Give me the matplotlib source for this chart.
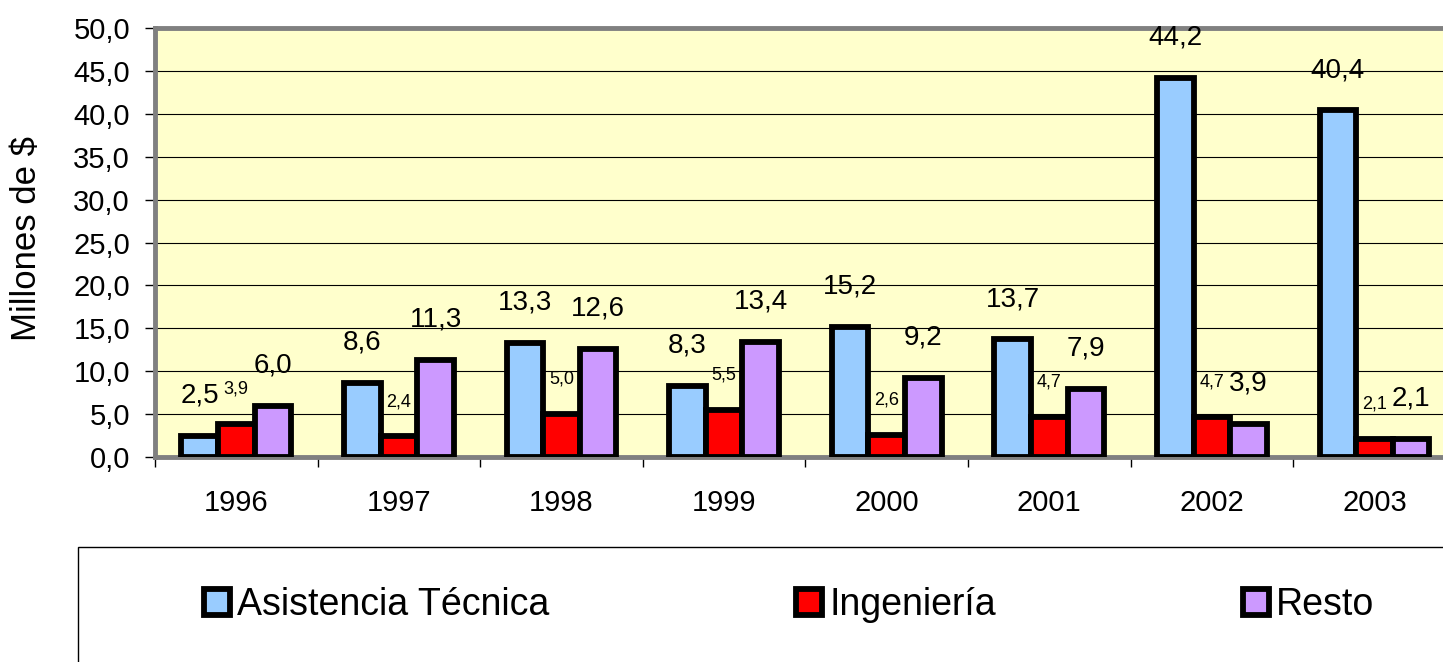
import matplotlib.pyplot as plt
import numpy as np
from matplotlib.patches import Rectangle

plt.rcParams['font.family'] = ['Liberation Sans', 'DejaVu Sans']

years = ['1996', '1997', '1998', '1999', '2000', '2001', '2002', '2003']
asistencia = [2.5, 8.6, 13.3, 8.3, 15.2, 13.7, 44.2, 40.4]
ingenieria = [3.9, 2.4, 5.0, 5.5, 2.6, 4.7, 4.7, 2.1]
resto = [6.0, 11.3, 12.6, 13.4, 9.2, 7.9, 3.9, 2.1]

series = [
    ('Asistencia Técnica', asistencia, '#99CCFF', 20, 29),
    ('Ingeniería', ingenieria, '#FF0000', 13, 25),
    ('Resto', resto, '#CC99FF', 20, 29),
]


def fmt(v):
    return f"{v:.1f}".replace('.', ',')


fig = plt.figure(figsize=(14.43, 6.62), dpi=100)
ax = fig.add_axes([155 / 1443, 1 - 457 / 662, 1300.8 / 1443, 429 / 662])
ax.set_facecolor('#FFFFCC')

x = np.arange(len(years))
w = 0.2255
for i, (name, vals, col, fs, off) in enumerate(series):
    pos = x + (i - 1) * w
    ax.bar(pos, vals, w, color=col, edgecolor='black', linewidth=4.2,
           label=name, zorder=3)
    for px, v in zip(pos, vals):
        ax.annotate(fmt(v), (px, v), xytext=(0, off), textcoords='offset points',
                    ha='center', va='center', fontsize=fs, zorder=4)

ax.set_xlim(-0.5, len(years) - 0.5)
ax.set_ylim(0, 50)
ax.set_yticks(np.arange(0, 51, 5))
ax.set_yticklabels([fmt(v) for v in np.arange(0, 51, 5)])
ax.yaxis.grid(True, color='black', linewidth=0.8, zorder=0)
ax.set_axisbelow(True)

ax.set_xticks(x)
ax.set_xticklabels(years)
ax.set_xticks(np.arange(-0.5, len(years), 1), minor=True)
ax.tick_params(axis='x', which='major', length=0, pad=23, labelsize=21)
ax.tick_params(axis='x', which='minor', length=7, width=1, color='black')
ax.tick_params(axis='y', length=7, width=1, color='black', pad=11, labelsize=21)

for s in ['left', 'top', 'bottom']:
    ax.spines[s].set_color('#808080')
    ax.spines[s].set_linewidth(3.5)
ax.spines['right'].set_visible(False)

ax.set_ylabel('Millones de $', fontsize=25)
ax.yaxis.set_label_coords(-112 / 1300.8, 0.51)

# legend box
fig.patches.append(Rectangle((78 / 1443, -0.1), 1.2, 1 - 547 / 662 + 0.1,
                             transform=fig.transFigure, facecolor='white',
                             edgecolor='black', linewidth=1))
fig.legend(loc='center left', bbox_to_anchor=(204 / 1443, 1 - 605 / 662),
           ncol=3, frameon=False, fontsize=27, borderpad=0, borderaxespad=0,
           handlelength=0.68, handleheight=0.68, handletextpad=0.2,
           columnspacing=6.59)

fig.savefig('out.png', dpi=100)
